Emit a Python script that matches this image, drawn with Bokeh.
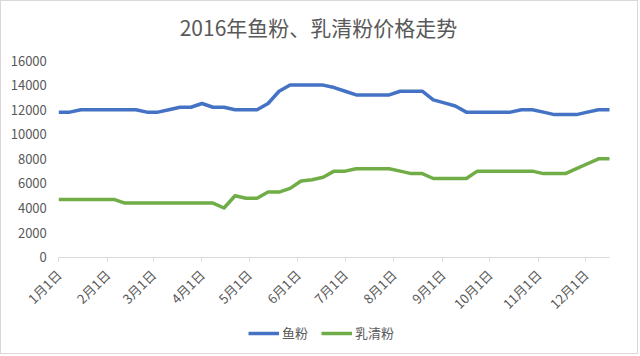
import math
import pandas as pd
from bokeh.plotting import figure
from bokeh.models import Range1d, FixedTicker, Legend, LegendItem, ColumnDataSource, Label
from bokeh.embed import file_html
from bokeh.resources import INLINE

# ---- data ----
dates = pd.date_range("2016-01-01", periods=51, freq="7D")
fishmeal = [11800, 11800, 12000, 12000, 12000, 12000, 12000, 12000, 11800, 11800,
            12000, 12200, 12200, 12500, 12200, 12200, 12000, 12000, 12000, 12500,
            13500, 14000, 14000, 14000, 14000, 13800, 13500, 13200, 13200, 13200,
            13200, 13500, 13500, 13500, 12800, 12550, 12300, 11800, 11800, 11800,
            11800, 11800, 12000, 12000, 11800, 11600, 11600, 11600, 11800, 12000,
            12000]
whey = [4700, 4700, 4700, 4700, 4700, 4700, 4400, 4400, 4400, 4400,
        4400, 4400, 4400, 4400, 4400, 4000, 5000, 4800, 4800, 5300,
        5300, 5600, 6200, 6300, 6500, 7000, 7000, 7200, 7200, 7200,
        7200, 7000, 6800, 6800, 6400, 6400, 6400, 6400, 7000, 7000,
        7000, 7000, 7000, 7000, 6800, 6800, 6800, 7200, 7600, 8000,
        8000]
series_names = ["鱼粉", "乳清粉"]
month_starts = pd.date_range("2016-01-01", periods=12, freq="MS")
month_labels = [f"{m}月1日" for m in range(1, 13)]
y_ticks = list(range(0, 16001, 2000))
y_min, y_max = 0, 16000

title_text = "2016年鱼粉、乳清粉价格走势"

FONT = "Noto Sans CJK SC"
TXT = "#595959"
BLUE = "#4472C4"
GREEN = "#70AD47"

x_days = [(d - dates[0]).days for d in dates]
tick_days = [(d - dates[0]).days for d in month_starts]
x_first, x_last = x_days[0], x_days[-1]

src = ColumnDataSource(dict(x=x_days, fish=fishmeal, whey=whey))

# ---- layout (pixels) : the frame covers the whole canvas ----
W, H = 638, 354
PLOT_L, PLOT_R = 57.3, 608.0      # pixel x of first / last date
PLOT_T, PLOT_B = 59.0, 255.7      # pixel y of y_max / y_min
kx = (PLOT_R - PLOT_L) / (x_last - x_first)
ky = (PLOT_B - PLOT_T) / (y_max - y_min)
x_range = Range1d(x_first - PLOT_L / kx, x_last + (W - PLOT_R) / kx)
y_range = Range1d(y_min - (H - PLOT_B) / ky, y_max + PLOT_T / ky)

def px_to_x(px):
    return x_first + (px - PLOT_L) / kx

def py_to_y(py):
    return y_max + (PLOT_T - py) / ky

p = figure(width=W, height=H, output_backend="svg", toolbar_location=None,
           x_range=x_range, y_range=y_range,
           min_border_left=0, min_border_right=0, min_border_top=0,
           min_border_bottom=0, styles={"border": "1px solid #D9D9D9"})
p.title.visible = False
p.outline_line_color = None
p.xgrid.visible = False
p.ygrid.visible = False

r1 = p.line("x", "fish", source=src, line_color=BLUE, line_width=3.5, line_join="round")
r2 = p.line("x", "whey", source=src, line_color=GREEN, line_width=3.5, line_join="round")

xa = p.xaxis[0]
xa.fixed_location = y_min
xa.bounds = (x_first, x_last)
xa.ticker = FixedTicker(ticks=tick_days)
xa.major_label_overrides = {t: lab for t, lab in zip(tick_days, month_labels)}
xa.major_label_orientation = math.pi / 4
xa.minor_tick_line_color = None
xa.axis_line_color = "#D9D9D9"
xa.major_tick_line_color = "#D9D9D9"
xa.major_tick_out = 4
xa.major_tick_in = 0
xa.major_label_text_font = FONT
xa.major_label_text_font_size = "13px"
xa.major_label_text_color = TXT
xa.major_label_standoff = 11

ya = p.yaxis[0]
ya.fixed_location = x_first
ya.bounds = (y_min, y_max)
ya.ticker = FixedTicker(ticks=y_ticks)
ya.axis_line_color = None
ya.major_tick_line_color = None
ya.minor_tick_line_color = None
ya.major_label_text_font = FONT
ya.major_label_text_font_size = "13px"
ya.major_label_text_color = TXT
ya.major_label_standoff = 6

title = Label(x=px_to_x(317), y=py_to_y(25), text=title_text, text_align="center",
              text_baseline="middle", text_font=FONT, text_font_size="21px",
              text_color=TXT)
p.add_layout(title)

legend = Legend(items=[LegendItem(label=series_names[0], renderers=[r1]),
                       LegendItem(label=series_names[1], renderers=[r2])],
                orientation="horizontal", location=(247, 13),
                glyph_width=31, glyph_height=14, label_standoff=3, spacing=13,
                padding=0, margin=0, border_line_color=None, background_fill_alpha=0,
                label_text_font=FONT, label_text_font_size="13px", label_text_color=TXT)
p.add_layout(legend)

open("out.html", "w").write(file_html(p, INLINE))
